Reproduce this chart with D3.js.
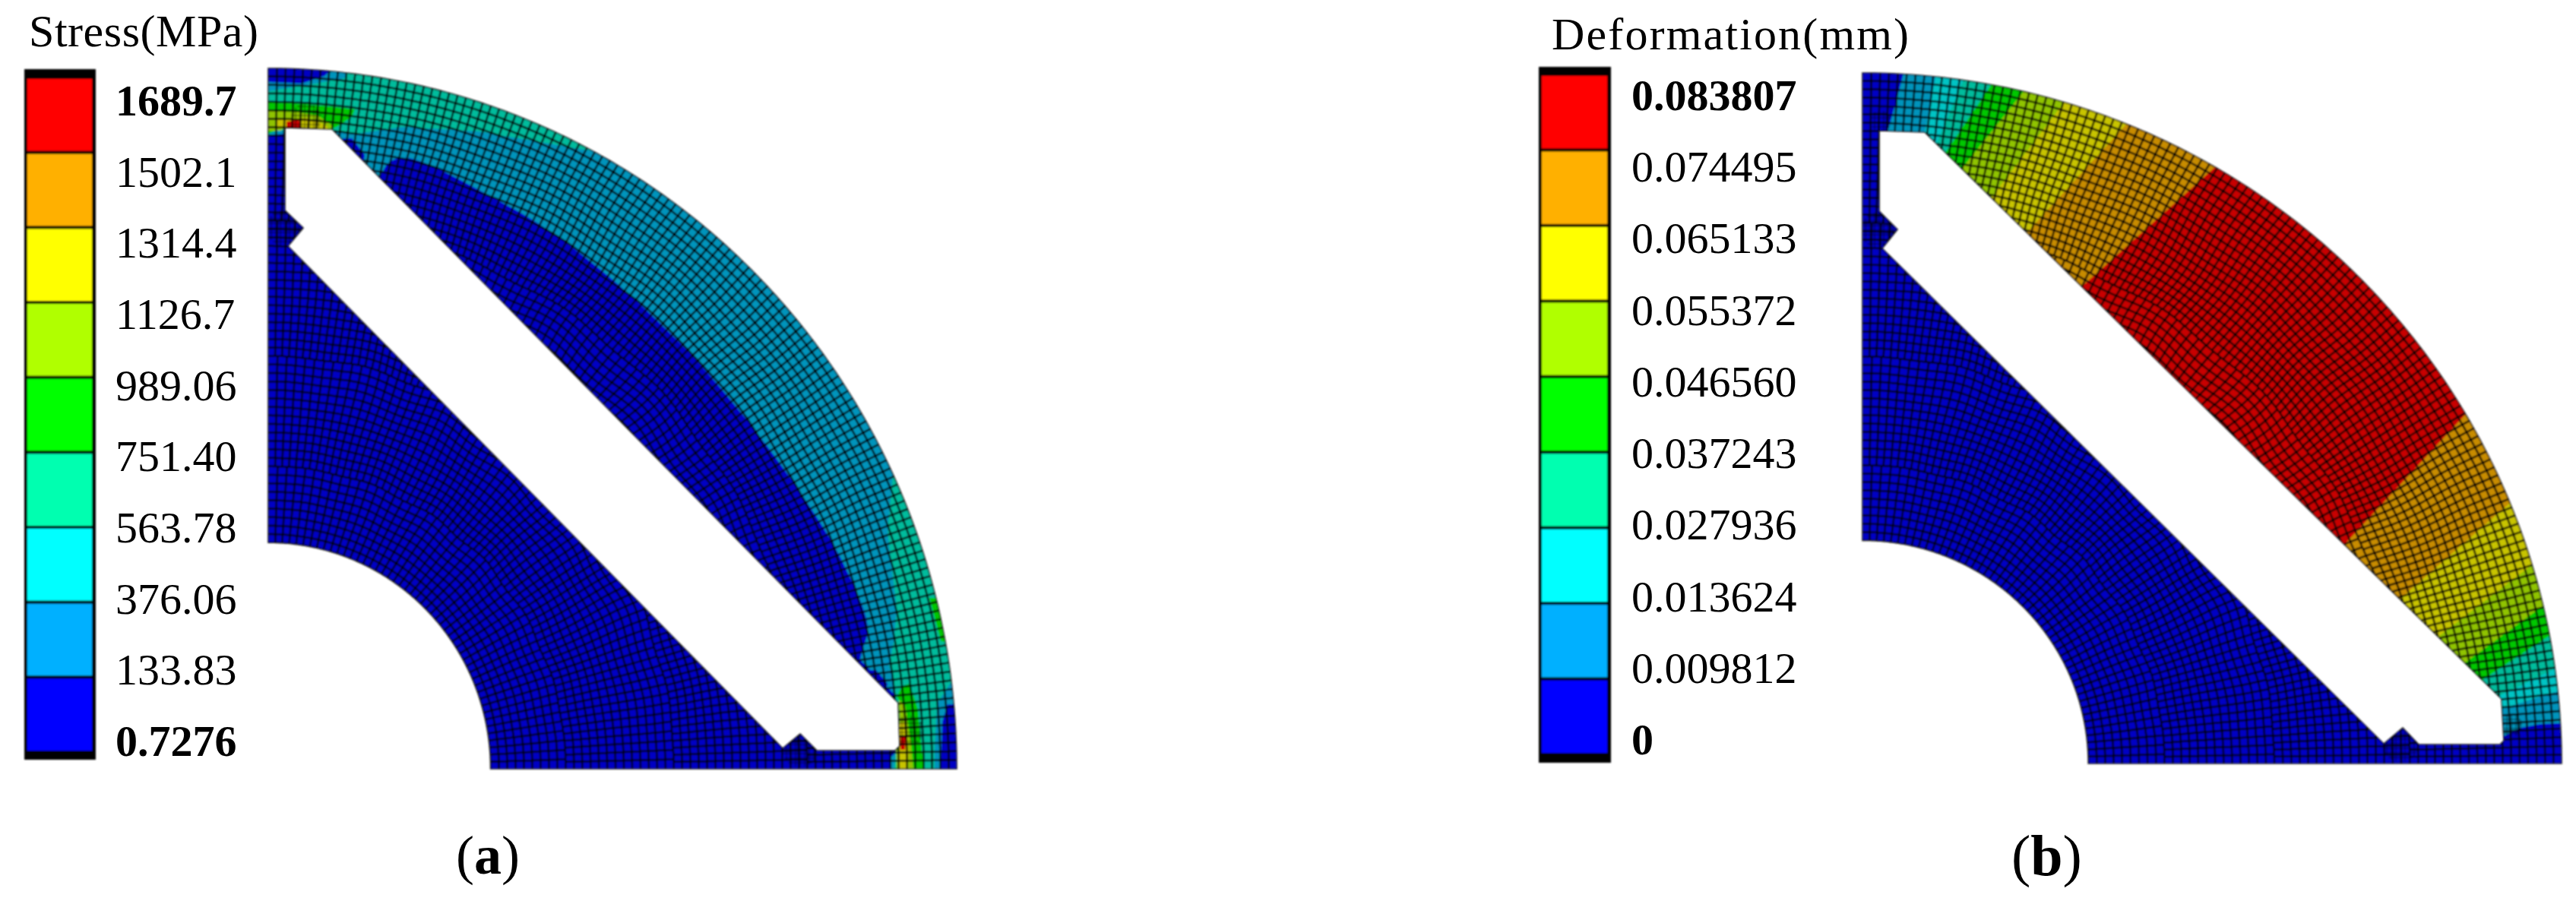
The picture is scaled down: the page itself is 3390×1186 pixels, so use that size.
<!DOCTYPE html>
<html>
<head>
<meta charset="utf-8">
<script src="https://cdn.jsdelivr.net/npm/d3@7"></script>
<style>
  html, body { margin: 0; background: #fff; }
  text { font-family: "Liberation Serif", serif; fill: #000; }
</style>
</head>
<body>
<svg id="chart" width="3390" height="1186"></svg>
<script>
// legend (top of the bar first)
var stressLabels = ['1689.7', '1502.1', '1314.4', '1126.7', '989.06', '751.40', '563.78', '376.06', '133.83', '0.7276'];
var deformLabels = ['0.083807', '0.074495', '0.065133', '0.055372', '0.046560', '0.037243', '0.027936', '0.013624', '0.009812', '0'];
var legendColors = ['#ff0000', '#ffb000', '#ffff00', '#b0ff00', '#00ff00', '#00ffb0', '#00ffff', '#00b0ff', '#0000ff'];

// shaded colours of the same bands on the mesh, blue = 0 ... red = 8
var cellColors = ['#0000c4', '#0094bc', '#00c4c4', '#00bc9c', '#00c800', '#90c400', '#c8c400', '#c88c00', '#c80000'];

// slot outlines, in model units (origin at the centre of the quarter ring, y up)
var slotA = [[22, 844], [84, 842], [829, 87], [831, 30], [825, 24], [722, 24], [700, 46], [677, 27], [26, 688], [46, 712], [22, 735]];
var slotB = [[22, 833], [82, 831], [841, 85], [844, 30], [839, 25], [732, 25], [711, 47], [686, 26], [26, 678], [46, 703], [22, 727]];

// stress contours of (a), painted in this order over the blue base
var lightBlueA = [[0, 904], [44, 902], [74, 912], [94, 930], [960, 960], [960, 85], [894, 85], [887, 62], [885, -10], [817, -10], [819, 15], [829, 24], [835, 87], [84, 842], [22, 836], [0, 834]];
var patchUpperA = [[98, 830], [110, 830], [127, 808], [125, 795], [100, 820]];
var patchLowerA = [[785, 130], [800, 130], [815, 112], [812, 100], [785, 125]];
var lobeA = [[145, 775], [150, 785], [160, 799], [184, 804], [310, 744], [364, 712], [447, 649], [547, 555], [630, 459], [710, 349], [757, 270], [789, 186], [782, 156], [775, 130]];
var tealTopA = [[0, 892], [44, 899], [100, 909], [114, 930], [430, 930], [427, 813], [277, 839], [177, 845], [110, 835], [87, 839], [22, 840], [0, 840]];
var tealRightA = [[822, 387], [815, 312], [827, 212], [824, 172], [817, 135], [824, 115], [826, 24], [822, -10], [877, -10], [877, 25], [880, 85], [897, 112], [950, 112], [950, 387]];
var greenTopA = [[0, 877], [47, 875], [80, 872], [114, 868], [110, 858], [90, 845], [84, 842], [22, 844], [0, 836]];
var greenRimTopA = [[160, 930], [240, 930], [235, 892], [195, 900], [160, 908]];
var greenRimRightA = [[870, 225], [900, 225], [905, 164], [885, 168]];
var greenRightA = [[827, 95], [834, 109], [844, 112], [855, 79], [860, 25], [864, -10], [825, -10], [828, 24], [834, 30], [832, 87]];
var limeTopA = [[0, 866], [40, 864], [65, 860], [86, 845], [84, 842], [22, 844], [16, 840], [0, 840]];
var limeRightA = [[830, 90], [838, 85], [846, 30], [850, -10], [828, -10], [826, 24], [832, 30]];
var yellowTopA = [[12, 855], [50, 857], [75, 848], [80, 842], [22, 842], [12, 845]];
var yellowRightA = [[831, 60], [840, 62], [843, 20], [840, -10], [830, -10], [831, 24]];
var redTopA = [[24, 852], [40, 854], [44, 844], [24, 844]];
var redRightA = [[832, 42], [839, 42], [838, 25], [832, 25]];
var contoursA = [
    [1, lightBlueA], [0, patchUpperA], [0, patchLowerA], [0, lobeA, true], [3, tealTopA], [3, tealRightA],
    [4, greenTopA], [4, greenRimTopA], [4, greenRimRightA], [4, greenRightA],
    [5, limeTopA], [5, limeRightA], [6, yellowTopA], [6, yellowRightA], [8, redTopA], [8, redRightA]
];

// deformation contours of (b): where each band starts and ends, slot side first, rim side last
var bandStartsB = [
    [[34, 835], [39, 852], [54, 908]],
    [[82, 831], [96, 902]],
    [[97, 815], [132, 898]],
    [[111, 807], [169, 893]],
    [[134, 787], [211, 883]],
    [[172, 748], [259, 862]],
    [[219, 702], [346, 840]],
    [[291, 630], [464, 785]]
];
var bandEndsB = [
    [[846, 37], [866, 47], [892, 52], [919, 53]],
    [[842, 72], [914, 95]],
    [[836, 88], [912, 125]],
    [[819, 112], [904, 168]],
    [[796, 135], [896, 208]],
    [[759, 168], [882, 262]],
    [[709, 218], [852, 343]],
    [[634, 288], [794, 460]]
];

// mesh layout: [ring position where the block starts, elements round the quarter]
var meshBlocks = [[0.323, 50], [0.43, 68], [0.58, 92], [0.78, 124]];
var ringStep = 0.0121;
var innerRing = 0.323;

// places where the mesh gets finer, [x, y, half size] in model units
var fineSpotsA = [[22, 712, 24], [700, 26, 24], [842, 50, 20], [50, 856, 20]];
var fineSpotsB = [[22, 702, 24], [708, 26, 24], [852, 50, 16], [24, 846, 14]];
var fineStep = 6;

var svg = d3.select('#chart');
var defs = svg.append('defs');
var soft = defs.append('filter').attr('id', 'soft')
    .attr('x', '-2%').attr('y', '-2%').attr('width', '104%').attr('height', '104%');
soft.append('feGaussianBlur').attr('stdDeviation', 0.9);

// radius at both ends of each ray / ring, with a small kink so the mesh is not too regular
function meshPoint(rho, theta, outer) {
    var edge = Math.sin(Math.PI * (rho - innerRing) / (1 - innerRing));
    var side = Math.sin(2 * theta);
    var t = theta + 0.007 * edge * side * Math.sin(rho * 31) * Math.sin(theta * 11);
    var r = rho + 0.005 * edge * side * Math.sin(theta * 27) * Math.sin(rho * 19);
    return [r * outer[0] * Math.cos(t), r * outer[1] * Math.sin(t)];
}

function meshLines(outer) {
    var lines = [];
    var rings = d3.range(innerRing, 1, ringStep);
    rings.forEach(function (rho, i) {
        var block = meshBlocks.filter(function (b) { return b[0] <= rho + 1e-6; }).pop();
        var n = block[1];
        var next = i + 1 < rings.length ? rings[i + 1] : 1;
        // rays of this ring
        d3.range(1, n).forEach(function (k) {
            var th = k / n * Math.PI / 2;
            lines.push([meshPoint(rho, th, outer), meshPoint(next, th, outer)]);
        });
        // the ring itself
        lines.push(d3.range(0, 241).map(function (k) {
            return meshPoint(rho, k / 240 * Math.PI / 2, outer);
        }));
    });
    return lines;
}

function fineLines(spots) {
    var lines = [];
    spots.forEach(function (s) {
        d3.range(-s[2], s[2], fineStep).forEach(function (o) {
            var half = Math.sqrt(s[2] * s[2] - o * o);
            lines.push([[s[0] + o, s[1] - half], [s[0] + o, s[1] + half]]);
            lines.push([[s[0] - half, s[1] + o], [s[0] + half, s[1] + o]]);
        });
    });
    return lines;
}

function partOutline(outer) {
    var steps = d3.range(0, 181).map(function (k) { return k / 180 * Math.PI / 2; });
    var out = steps.map(function (t) { return [outer[0] * Math.cos(t), outer[1] * Math.sin(t)]; });
    var back = steps.slice().reverse().map(function (t) {
        return [innerRing * outer[0] * Math.cos(t), innerRing * outer[1] * Math.sin(t)];
    });
    return out.concat(back);
}

// stretch a slot-to-rim boundary past both ends so the clip trims it
function stretched(line) {
    var a = line[0], b = line[1], c = line[line.length - 2], d = line[line.length - 1];
    var first = [a[0] - (b[0] - a[0]) * 0.15, a[1] - (b[1] - a[1]) * 0.15];
    var last = [d[0] + (d[0] - c[0]) * 0.5, d[1] + (d[1] - c[1]) * 0.5];
    return [first].concat(line, [last]);
}

function bandPolygonsB() {
    return bandStartsB.map(function (start, i) {
        var poly = stretched(start).concat([[1150, 1150]], stretched(bandEndsB[i]).reverse());
        return [i + 1, poly];
    });
}

function drawPart(id, box, outer, slot, contours, spots) {
    var x = d3.scaleLinear().domain([0, outer[0]]).range([box.left, box.left + outer[0]]);
    var y = d3.scaleLinear().domain([0, outer[1]]).range([box.bottom, box.bottom - outer[1]]);
    var line = d3.line().x(function (d) { return x(d[0]); }).y(function (d) { return y(d[1]); });
    var smooth = d3.line().x(function (d) { return x(d[0]); }).y(function (d) { return y(d[1]); })
        .curve(d3.curveCatmullRom);
    var shape = line(partOutline(outer)) + 'Z' + line(slot) + 'Z';

    defs.append('clipPath').attr('id', id)
        .append('path').attr('d', shape).attr('clip-rule', 'evenodd');

    var g = svg.append('g').attr('filter', 'url(#soft)');
    var inner = g.append('g').attr('clip-path', 'url(#' + id + ')');

    inner.append('rect')
        .attr('x', box.left).attr('y', box.bottom - outer[1])
        .attr('width', outer[0]).attr('height', outer[1])
        .style('fill', cellColors[0]);

    inner.selectAll('path.band')
        .data(contours)
        .enter().append('path')
        .attr('class', 'band')
        .attr('d', function (d) { return (d[2] ? smooth(d[1]) : line(d[1])) + 'Z'; })
        .style('fill', function (d) { return cellColors[d[0]]; });

    inner.append('path')
        .attr('d', meshLines(outer).map(function (l) { return line(l); }).join(''))
        .style('fill', 'none')
        .style('stroke', '#000')
        .style('stroke-width', 2.5);

    inner.append('path')
        .attr('d', fineLines(spots).map(function (l) { return line(l); }).join(''))
        .style('fill', 'none')
        .style('stroke', '#000')
        .style('stroke-width', 1)
        .style('stroke-opacity', 0.6);

    g.append('path')
        .attr('d', shape)
        .style('fill', 'none')
        .style('stroke', '#1a1a1a')
        .style('stroke-width', 1.6);
}

function drawLegend(bar, labels, boldLabels, title) {
    var band = d3.scaleBand().domain(legendColors).range([bar.top, bar.bottom]);
    var tick = d3.scalePoint().domain(labels).range([bar.firstBase, bar.lastBase]);

    var g = svg.append('g').attr('filter', 'url(#soft)');
    g.append('rect')
        .attr('x', bar.left + 1).attr('y', bar.y0)
        .attr('width', bar.width - 2).attr('height', bar.y1 - bar.y0)
        .style('fill', '#000');
    g.selectAll('rect.seg')
        .data(legendColors)
        .enter().append('rect')
        .attr('class', 'seg')
        .attr('x', bar.left + 5)
        .attr('y', function (d) { return band(d) + 2; })
        .attr('width', bar.width - 11)
        .attr('height', band.bandwidth() - 4)
        .style('fill', function (d) { return d; });

    svg.selectAll(null)
        .data(labels)
        .enter().append('text')
        .attr('x', bar.textX)
        .attr('y', function (d) { return tick(d); })
        .style('font-size', '58px')
        .style('font-weight', function (d) { return boldLabels.indexOf(d) >= 0 ? 'bold' : 'normal'; })
        .text(function (d) { return d; });

    svg.append('text')
        .attr('x', title.x).attr('y', title.y)
        .attr('textLength', title.length).attr('lengthAdjust', 'spacing')
        .style('font-size', '60px')
        .text(title.text);
}

function drawCaption(x, y, letter, size) {
    var t = svg.append('text').attr('x', x).attr('y', y).style('font-size', size + 'px');
    t.append('tspan').text('(');
    t.append('tspan').style('font-weight', 'bold').text(letter);
    t.append('tspan').text(')');
}

drawLegend({ left: 31, width: 96, y0: 91, y1: 1000, top: 102, bottom: 990, firstBase: 152, lastBase: 995, textX: 152 },
    stressLabels, ['1689.7', '0.7276'], { x: 38, y: 61, length: 302, text: 'Stress(MPa)' });
drawPart('partA', { left: 353, bottom: 1012 }, [906, 922], slotA, contoursA, fineSpotsA);
drawCaption(600, 1150, 'a', 72);

drawLegend({ left: 2024, width: 97, y0: 88, y1: 1004, top: 98, bottom: 993, firstBase: 145, lastBase: 993, textX: 2147 },
    deformLabels, ['0.083807', '0'], { x: 2042, y: 65, length: 470, text: 'Deformation(mm)' });
drawPart('partB', { left: 2451, bottom: 1005 }, [920, 909], slotB, bandPolygonsB(), fineSpotsB);
drawCaption(2647, 1152, 'b', 76);
</script>
</body>
</html>
